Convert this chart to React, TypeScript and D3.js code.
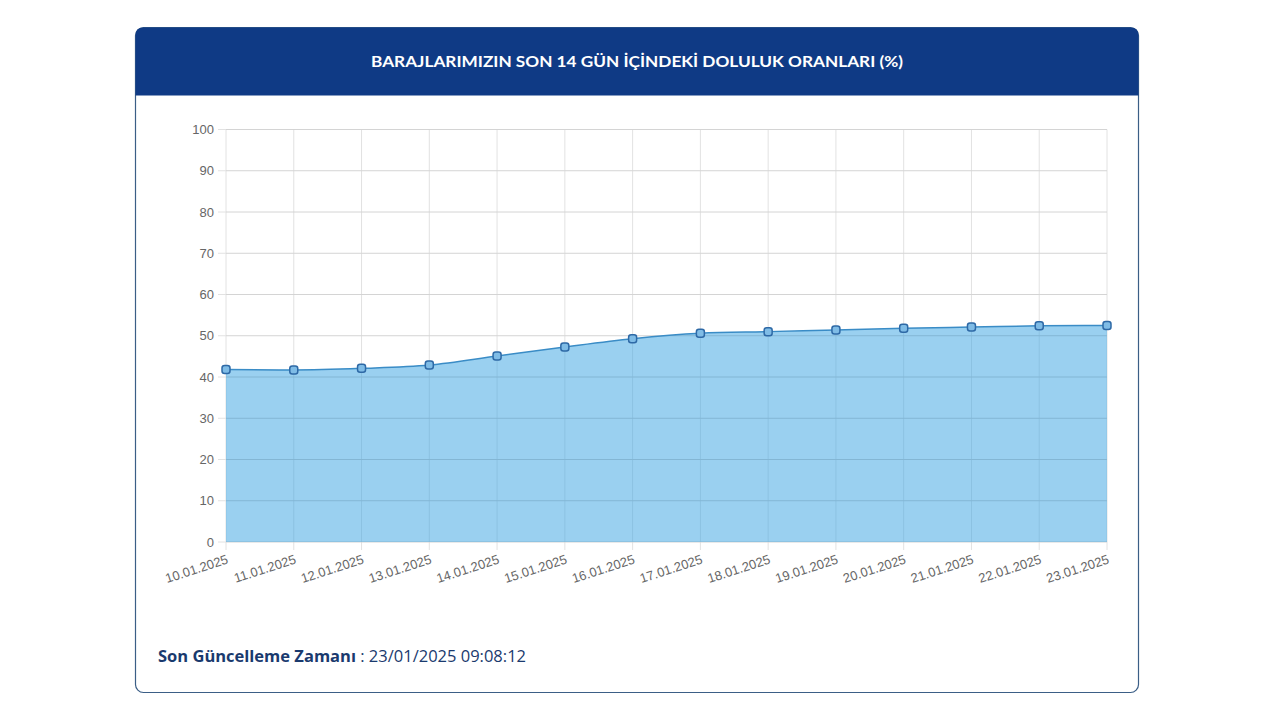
import React from 'react';
import * as d3 from 'd3';

const dates = [
  '10.01.2025', '11.01.2025', '12.01.2025', '13.01.2025', '14.01.2025',
  '15.01.2025', '16.01.2025', '17.01.2025', '18.01.2025', '19.01.2025',
  '20.01.2025', '21.01.2025', '22.01.2025', '23.01.2025',
];
const fillRates = [41.8, 41.7, 42.1, 42.9, 45.1, 47.3, 49.3, 50.6, 51.0, 51.4, 51.8, 52.1, 52.4, 52.5];
const yTicks = [0, 10, 20, 30, 40, 50, 60, 70, 80, 90, 100];

const title = 'BARAJLARIMIZIN SON 14 GÜN İÇİNDEKİ DOLULUK ORANLARI (%)';
const updateLabel = 'Son Güncelleme Zamanı';
const updateValue = '23/01/2025 09:08:12';

const App = () => {
  const card = { x: 135.5, y: 27.5, w: 1003, h: 665 };
  const headerH = 68;
  const plot = { left: 226, right: 1107, top: 129.5, bottom: 542 };

  const x = d3.scalePoint().domain(dates).range([plot.left, plot.right]);
  const y = d3.scaleLinear().domain([0, 100]).range([plot.bottom, plot.top]);

  const pts = dates.map((d, i) => [x(d), y(fillRates[i])]);
  const line = d3.line().curve(d3.curveMonotoneX)(pts);
  const area = d3.area().curve(d3.curveMonotoneX).x((p) => p[0]).y0(y(0)).y1((p) => p[1])(pts);

  const r = 8;
  const headerPath = `M${card.x},${card.y + headerH} V${card.y + r} Q${card.x},${card.y} ${card.x + r},${card.y} H${card.x + card.w - r} Q${card.x + card.w},${card.y} ${card.x + card.w},${card.y + r} V${card.y + headerH} Z`;

  const tickFont = "'Liberation Sans', Arial, sans-serif";

  return (
    <svg width={1280} height={720} style={{ position: 'absolute', left: 0, top: 0 }}>
      <rect width={1280} height={720} fill="#ffffff" />
      <rect x={card.x} y={card.y} width={card.w} height={card.h} rx={r} fill="#ffffff" stroke="#3b5e86" strokeWidth={1.2} />
      <path d={headerPath} fill="#0f3a85" />
      <text x={card.x + card.w / 2} y={67} textAnchor="middle" fill="#ffffff"
        fontFamily="Lato, 'Noto Sans', sans-serif" fontWeight={700} fontSize={16}
        textLength={532} lengthAdjust="spacingAndGlyphs">{title}</text>

      {/* grid */}
      {yTicks.map((t) => (
        <g key={'y' + t}>
          <line x1={plot.left - 8} x2={plot.right} y1={y(t)} y2={y(t)} stroke="#e2e2e2" strokeWidth={1} />
          <text x={plot.left - 12} y={y(t) + 4.5} textAnchor="end" fill="#666"
            fontFamily={tickFont} fontSize={13}>{t}</text>
        </g>
      ))}
      {dates.map((d) => (
        <line key={'x' + d} x1={x(d)} x2={x(d)} y1={plot.top} y2={plot.bottom + 8} stroke="#e2e2e2" strokeWidth={1} />
      ))}

      <path d={area} fill="rgba(54,162,225,0.5)" />
      {/* grid visible through the fill */}
      {yTicks.map((t) => (
        <line key={'yo' + t} x1={plot.left} x2={plot.right} y1={y(t)} y2={y(t)} stroke="rgba(0,0,0,0.06)" />
      ))}
      {dates.map((d) => (
        <line key={'xo' + d} x1={x(d)} x2={x(d)} y1={y(0)} y2={plot.bottom} stroke="rgba(0,0,0,0.06)" />
      ))}
      <path d={line} fill="none" stroke="#3a8cc6" strokeWidth={1.5} />
      {pts.map((p, i) => (
        <rect key={'p' + i} x={p[0] - 4} y={p[1] - 4} width={8} height={8} rx={2.5}
          fill="#7fbce6" stroke="#2e69a6" strokeWidth={1.5} />
      ))}

      {dates.map((d) => (
        <text key={'l' + d} transform={`translate(${x(d) + 3},${plot.bottom + 21}) rotate(-18)`}
          textAnchor="end" fill="#666" fontFamily={tickFont} fontSize={13}>{d}</text>
      ))}

      <text x={158} y={662} fontFamily="'Open Sans', 'Noto Sans', sans-serif" fontSize={16.5} fill="#1a3a6e">
        <tspan fontWeight={700}>{updateLabel}</tspan>
        <tspan fontWeight={400}> : {updateValue}</tspan>
      </text>
    </svg>
  );
};

export default App;
